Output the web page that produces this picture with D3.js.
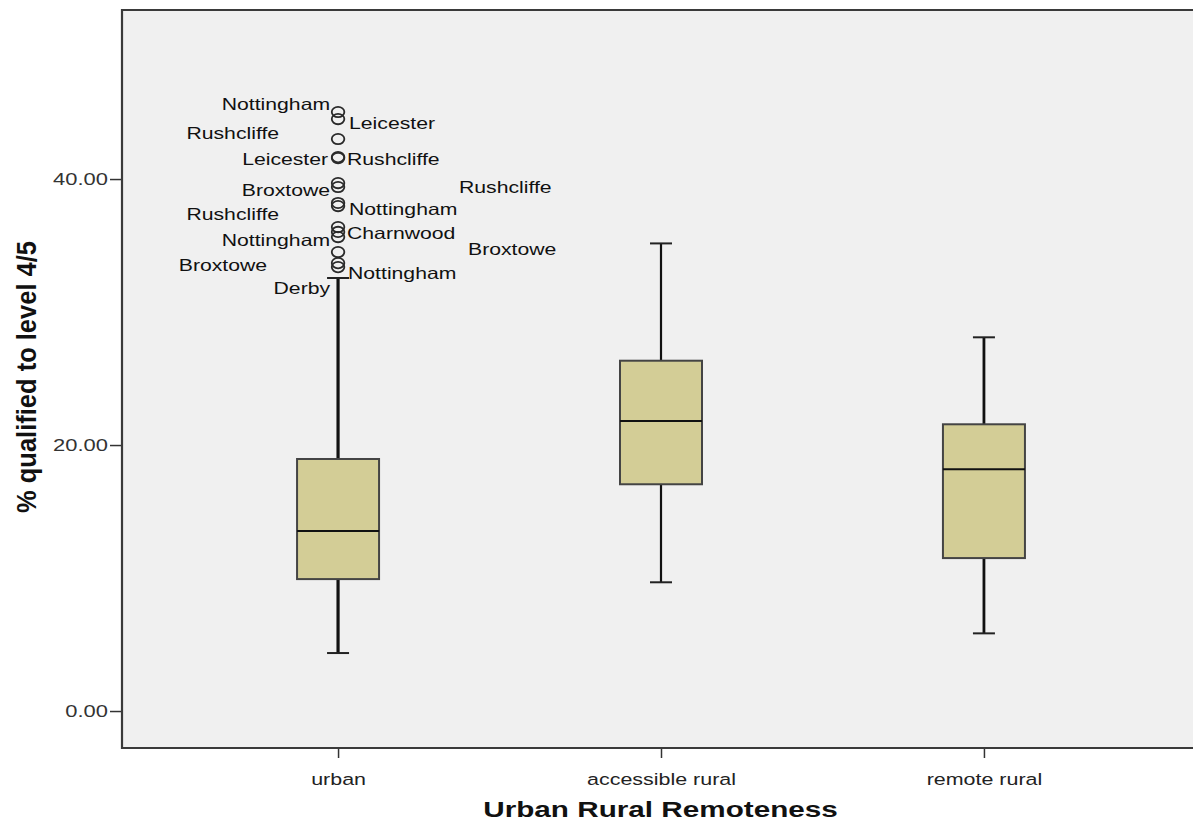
<!DOCTYPE html>
<html>
<head>
<meta charset="utf-8">
<script src="https://cdn.jsdelivr.net/npm/d3@7"></script>
<style>
  html, body { margin: 0; padding: 0; background: #ffffff; }
  svg { display: block; }
  text { font-family: "Liberation Sans", Arial, sans-serif; }
</style>
</head>
<body>
<svg id="chart" width="1193" height="823"></svg>
<script>
// ---------------- data ----------------
const categories = ["urban", "accessible rural", "remote rural"];
const whiskerLow  = [4.36, 9.68, 5.84];
const q1          = [9.92, 17.05, 11.50];
const medians     = [13.53, 21.80, 18.17];
const q3          = [18.95, 26.34, 21.56];
const whiskerHigh = [32.56, 35.16, 28.10];

// outliers (all in "urban")
const outlierValues = [45.04, 44.51, 43.01, 41.65, 41.58, 39.70, 39.40, 38.20,
                       37.97, 36.39, 36.02, 35.64, 34.51, 33.68, 33.38];
const outlierNames  = ["Nottingham", "Leicester", "Rushcliffe", "Leicester", "Rushcliffe",
                       "Broxtowe", "Rushcliffe", "Nottingham", "Rushcliffe", "Charnwood",
                       "Nottingham", "Broxtowe", "Broxtowe", "Nottingham", "Derby"];
const outlierCategory = "urban";

const yTickValues = [0, 20, 40];
const yTitle = "% qualified to level 4/5";
const xTitle = "Urban Rural Remoteness";

// ---------------- layout (pixels, not data) ----------------
// label offsets relative to each outlier marker: [dx, dy]
const labelOffsets = [[-8,-8],[11,4],[-59,-6],[-10,2],[9,1],[-8,7],[121,0],[11,6],
                      [-59,8],[9,6],[-8,8],[130,12],[-71,13],[10,10],[-8,21]];
const whiskerWidths = [3.2, 2.2, 2.8];
const STRETCH = 1.3;

const svg = d3.select("#chart");
const W = 1193, H = 823;
const plot = { left: 122, top: 10, right: 1200, bottom: 748 };

const y = d3.scaleLinear().domain([-2.78, 52.71]).range([plot.bottom, plot.top]);
const x = d3.scalePoint().domain(categories).range([plot.left, plot.right]).padding(0.669);

// plot background
svg.append("rect")
  .attr("x", plot.left).attr("y", plot.top)
  .attr("width", plot.right - plot.left).attr("height", plot.bottom - plot.top)
  .attr("fill", "#f0f0f0");

function stretchedText(sel, tx, ty, txt, anchor, k) {
  return sel.append("text")
    .attr("transform", `translate(${tx},${ty}) scale(${k || STRETCH},1)`)
    .attr("text-anchor", anchor)
    .attr("dy", "0.36em")
    .text(txt);
}

// y axis
const yAxis = d3.axisLeft(y).tickValues(yTickValues).tickSize(12).tickPadding(3)
  .tickFormat(d3.format(".2f"));
const gy = svg.append("g").attr("transform", `translate(${plot.left},0)`).call(yAxis);
gy.select(".domain").remove();
gy.selectAll(".tick line").attr("stroke", "#333").attr("stroke-width", 1.5);
gy.selectAll(".tick text").remove();
gy.selectAll(".tick").each(function(d) {
  stretchedText(d3.select(this), -14, 0, d3.format(".2f")(d), "end", 1.33)
    .attr("font-size", 16.5).attr("fill", "#333");
});

// x axis
const xAxis = d3.axisBottom(x).tickSize(10);
const gx = svg.append("g").attr("transform", `translate(0,${plot.bottom})`).call(xAxis);
gx.select(".domain").remove();
gx.selectAll(".tick line").attr("stroke", "#333").attr("stroke-width", 1.5);
gx.selectAll(".tick text").remove();
gx.selectAll(".tick").each(function(d) {
  stretchedText(d3.select(this), 0, 31, d, "middle")
    .attr("font-size", 16.5).attr("fill", "#222");
});

// frame (left, top, bottom)
svg.append("path")
  .attr("d", `M${W},${plot.top}H${plot.left}V${plot.bottom}H${W}`)
  .attr("fill", "none").attr("stroke", "#3a3a3a").attr("stroke-width", 2.2);

// boxes
const boxW = 82, capW = 22;
const boxes = svg.append("g");
categories.forEach((c, i) => {
  const cx = x(c);
  const g = boxes.append("g");
  g.append("line").attr("x1", cx).attr("x2", cx)
    .attr("y1", y(q3[i])).attr("y2", y(whiskerHigh[i]))
    .attr("stroke", "#111").attr("stroke-width", whiskerWidths[i]);
  g.append("line").attr("x1", cx).attr("x2", cx)
    .attr("y1", y(q1[i])).attr("y2", y(whiskerLow[i]))
    .attr("stroke", "#111").attr("stroke-width", whiskerWidths[i]);
  [whiskerHigh[i], whiskerLow[i]].forEach(v => {
    g.append("line").attr("x1", cx - capW/2).attr("x2", cx + capW/2)
      .attr("y1", y(v)).attr("y2", y(v))
      .attr("stroke", "#222").attr("stroke-width", 2);
  });
  g.append("rect")
    .attr("x", cx - boxW/2).attr("y", y(q3[i]))
    .attr("width", boxW).attr("height", y(q1[i]) - y(q3[i]))
    .attr("fill", "#d3cd96").attr("stroke", "#444").attr("stroke-width", 2);
  g.append("line").attr("x1", cx - boxW/2).attr("x2", cx + boxW/2)
    .attr("y1", y(medians[i])).attr("y2", y(medians[i]))
    .attr("stroke", "#111").attr("stroke-width", 2);
});

// outliers
const ox = x(outlierCategory);
const og = svg.append("g");
outlierValues.forEach((v) => {
  og.append("ellipse").attr("cx", ox).attr("cy", y(v))
    .attr("rx", 6.3).attr("ry", 5.2)
    .attr("fill", "none").attr("stroke", "#2a2a2a").attr("stroke-width", 1.8);
});
outlierValues.forEach((v, i) => {
  const [dx, dy] = labelOffsets[i];
  stretchedText(og, ox + dx, y(v) + dy, outlierNames[i], dx < 0 ? "end" : "start")
    .attr("font-size", 16.3).attr("fill", "#111");
});

// axis titles
svg.append("text")
  .attr("transform", `translate(${(plot.left + W) / 2 + 3},809) scale(1.32,1)`)
  .attr("text-anchor", "middle").attr("dy", "0.36em")
  .attr("font-size", 22.5).attr("font-weight", "bold").attr("fill", "#111")
  .text(xTitle);
svg.append("text")
  .attr("transform", `translate(26,${(plot.top + plot.bottom) / 2 - 2}) scale(1.1,1) rotate(-90)`)
  .attr("text-anchor", "middle").attr("dy", "0.36em")
  .attr("font-size", 25.5).attr("font-weight", "bold").attr("fill", "#111")
  .text(yTitle);
</script>
</body>
</html>
